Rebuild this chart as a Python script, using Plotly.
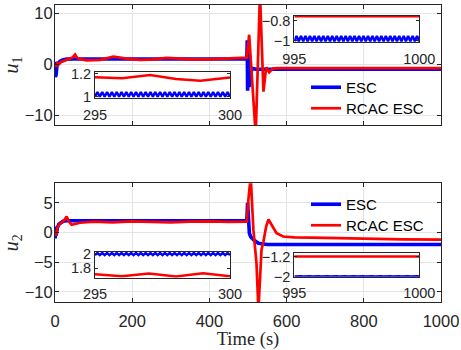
import numpy as np
import plotly.graph_objects as go

# ---------------- data ----------------
# u1, ESC (blue)
t_u1_esc = [0, 1, 2, 3, 5, 8, 13, 20, 30, 45, 497, 498, 499, 501, 503, 505, 508, 512, 520, 1000]
u1_esc = [0.5, -2.5, 0.3, -2.0, -0.3, 0.2, 0.6, 0.85, 1.0, 1.03, 1.03, 4.7, -5.2, 2.0, -4.5, 0.0, -1.5, -0.8, -0.98, -0.98]

# u1, RCAC ESC (red)
t_u1_rcac = [0, 3, 6, 10, 15, 25, 35, 45, 52, 58, 69, 82, 117, 151, 186, 220, 255, 289, 324, 358,
             393, 427, 462, 497, 503, 512, 520, 531, 540, 547, 555, 564, 575, 600, 1000]
u1_rcac = [0.0, -0.5, 0.2, 0.0, 0.4, 0.7, 0.9, 1.3, 1.9, 1.2, 0.95, 0.75, 0.85, 1.5, 1.1, 0.85, 0.95, 1.25, 1.1, 0.95,
           0.95, 1.1, 1.25, 1.3, 5.8, -6.0, -14.0, 14.0, -5.4, -0.6, -1.6, -0.85, -0.76, -0.76, -0.76]

# u2, ESC (blue)
t_u2_esc = [0, 0.5, 1, 3, 6, 10, 15, 21, 30, 497, 499, 501, 503.5, 507, 514, 527, 540, 550, 1000]
u2_esc = [0.0, -1.0, 1.0, -0.5, 0.8, 1.4, 1.7, 1.9, 2.0, 2.0, 5.0, 3.3, -0.1, -0.7, -1.2, -1.8, -1.97, -2.0, -2.0]

# u2, RCAC ESC (red)
t_u2_rcac = [0, 3, 6, 10, 15, 20, 25, 30, 35, 43, 65, 100, 150, 200, 250, 300, 350, 400, 450, 497,
             501, 507, 514, 518, 522, 527, 535, 540, 547, 553, 561, 574, 591, 620, 700, 800, 900, 1000]
u2_rcac = [0.2, -0.5, 0.8, 1.3, 1.6, 1.8, 2.2, 2.7, 2.0, 1.3, 1.65, 1.85, 1.7, 1.9, 1.8, 1.7, 1.85, 1.9, 1.8, 1.85,
           5.5, 9.5, 0.45, -2.3, -5.2, -13.0, -2.9, -1.5, 1.0, 2.2, 1.3, -0.1, -0.67, -0.8, -0.9, -1.05, -1.15, -1.2]

# zoomed windows (insets)
t_zoom_a = np.linspace(295, 300, 57)
t_zoom_b = np.linspace(995, 1000, 57)
t_zoom_a_rcac_u1 = [295, 296, 297.04, 298, 298.9, 300]
t_zoom_a_rcac_u2 = [295, 296, 297, 298, 299, 300]
t_zoom_b_rcac = [995, 1000]

zoom_u1_esc_a = [1.0, 1.041, 1.0, 1.041, 1.0, 1.041, 1.0, 1.041, 1.0, 1.041, 1.0, 1.041, 1.0, 1.041,
                 1.0, 1.041, 1.0, 1.041, 1.0, 1.041, 1.0, 1.041, 1.0, 1.041, 1.0, 1.041, 1.0, 1.041,
                 1.0, 1.041, 1.0, 1.041, 1.0, 1.041, 1.0, 1.041, 1.0, 1.041, 1.0, 1.041, 1.0, 1.041,
                 1.0, 1.041, 1.0, 1.041, 1.0, 1.041, 1.0, 1.041, 1.0, 1.041, 1.0, 1.041, 1.0, 1.041, 1.0]
zoom_u1_rcac_a = [1.171, 1.162, 1.191, 1.156, 1.141, 1.168]

zoom_u1_esc_b = [-1.005, -0.953, -1.005, -0.953, -1.005, -0.953, -1.005, -0.953, -1.005, -0.953,
                 -1.005, -0.953, -1.005, -0.953, -1.005, -0.953, -1.005, -0.953, -1.005, -0.953,
                 -1.005, -0.953, -1.005, -0.953, -1.005, -0.953, -1.005, -0.953, -1.005, -0.953,
                 -1.005, -0.953, -1.005, -0.953, -1.005, -0.953, -1.005, -0.953, -1.005, -0.953,
                 -1.005, -0.953, -1.005, -0.953, -1.005, -0.953, -1.005, -0.953, -1.005, -0.953,
                 -1.005, -0.953, -1.005, -0.953, -1.005, -0.953, -1.005]
zoom_u1_rcac_b = [-0.756, -0.756]

zoom_u2_esc_a = [1.985, 2.015, 1.985, 2.015, 1.985, 2.015, 1.985, 2.015, 1.985, 2.015,
                 1.985, 2.015, 1.985, 2.015, 1.985, 2.015, 1.985, 2.015, 1.985, 2.015,
                 1.985, 2.015, 1.985, 2.015, 1.985, 2.015, 1.985, 2.015, 1.985, 2.015,
                 1.985, 2.015, 1.985, 2.015, 1.985, 2.015, 1.985, 2.015, 1.985, 2.015,
                 1.985, 2.015, 1.985, 2.015, 1.985, 2.015, 1.985, 2.015, 1.985, 2.015,
                 1.985, 2.015, 1.985, 2.015, 1.985, 2.015, 1.985]
zoom_u2_rcac_a = [1.716, 1.689, 1.729, 1.686, 1.731, 1.688]

zoom_u2_esc_b = [-2.004, -1.994, -2.004, -1.994, -2.004, -1.994, -2.004, -1.994, -2.004, -1.994,
                 -2.004, -1.994, -2.004, -1.994, -2.004, -1.994, -2.004, -1.994, -2.004, -1.994,
                 -2.004, -1.994, -2.004, -1.994, -2.004, -1.994, -2.004, -1.994, -2.004, -1.994,
                 -2.004, -1.994, -2.004, -1.994, -2.004, -1.994, -2.004, -1.994, -2.004, -1.994,
                 -2.004, -1.994, -2.004, -1.994, -2.004, -1.994, -2.004, -1.994, -2.004, -1.994,
                 -2.004, -1.994, -2.004, -1.994, -2.004, -1.994, -2.004]
zoom_u2_rcac_b = [-1.2, -1.2]

x_ticks = [0, 200, 400, 600, 800, 1000]
u1_ticks = [-10, 0, 10]
u2_ticks = [-10, -5, 0, 5]

# ---------------- figure ----------------
W, H = 461, 350
BLUE, RED = "#0000ff", "#ff0000"
AX = "#262626"
SANS = "Liberation Sans, Arial, Helvetica, sans-serif"
SERIF = "Liberation Serif, Times New Roman, serif"


def xd(l, r):
    return [l / W, r / W]


def yd(top, bottom):
    return [(H - bottom) / H, (H - top) / H]


fig = go.Figure()

# main u1
fig.add_trace(go.Scatter(x=t_u1_esc, y=u1_esc, mode="lines", name="ESC",
                         line=dict(color=BLUE, width=3.6), xaxis="x", yaxis="y", legend="legend"))
fig.add_trace(go.Scatter(x=t_u1_rcac, y=u1_rcac, mode="lines", name="RCAC ESC",
                         line=dict(color=RED, width=2.7), xaxis="x", yaxis="y", legend="legend2"))
# main u2
fig.add_trace(go.Scatter(x=t_u2_esc, y=u2_esc, mode="lines", name="ESC",
                         line=dict(color=BLUE, width=3.6), xaxis="x2", yaxis="y2", legend="legend3"))
fig.add_trace(go.Scatter(x=t_u2_rcac, y=u2_rcac, mode="lines", name="RCAC ESC",
                         line=dict(color=RED, width=2.7), xaxis="x2", yaxis="y2", legend="legend4"))
# insets
fig.add_trace(go.Scatter(x=t_zoom_a, y=zoom_u1_esc_a, mode="lines", showlegend=False,
                         line=dict(color=BLUE, width=2.5), xaxis="x3", yaxis="y3"))
fig.add_trace(go.Scatter(x=t_zoom_a_rcac_u1, y=zoom_u1_rcac_a, mode="lines", showlegend=False,
                         line=dict(color=RED, width=2.5), xaxis="x3", yaxis="y3"))
fig.add_trace(go.Scatter(x=t_zoom_b, y=zoom_u1_esc_b, mode="lines", showlegend=False,
                         line=dict(color=BLUE, width=2.5), xaxis="x4", yaxis="y4"))
fig.add_trace(go.Scatter(x=t_zoom_b_rcac, y=zoom_u1_rcac_b, mode="lines", showlegend=False,
                         line=dict(color=RED, width=2.5), xaxis="x4", yaxis="y4"))
fig.add_trace(go.Scatter(x=t_zoom_a, y=zoom_u2_esc_a, mode="lines", showlegend=False,
                         line=dict(color=BLUE, width=2.5), xaxis="x5", yaxis="y5"))
fig.add_trace(go.Scatter(x=t_zoom_a_rcac_u2, y=zoom_u2_rcac_a, mode="lines", showlegend=False,
                         line=dict(color=RED, width=2.5), xaxis="x5", yaxis="y5"))
fig.add_trace(go.Scatter(x=t_zoom_b, y=zoom_u2_esc_b, mode="lines", showlegend=False,
                         line=dict(color=BLUE, width=2.5), xaxis="x6", yaxis="y6"))
fig.add_trace(go.Scatter(x=t_zoom_b_rcac, y=zoom_u2_rcac_b, mode="lines", showlegend=False,
                         line=dict(color=RED, width=2.5), xaxis="x6", yaxis="y6"))

main_common = dict(showline=True, linecolor=AX, linewidth=1, mirror="allticks",
                   ticks="inside", ticklen=4, tickcolor=AX, tickwidth=1, automargin=False,
                   showgrid=True, gridcolor="#e4e4e4", gridwidth=1, zeroline=False,
                   tickfont=dict(family=SANS, size=16.5, color=AX))
inset_common = dict(showline=True, linecolor=AX, linewidth=1, mirror="allticks",
                    ticks="inside", ticklen=3, tickcolor=AX, tickwidth=1, automargin=False,
                    showgrid=False, zeroline=False,
                    tickfont=dict(family=SANS, size=14.5, color=AX))

XM = xd(55, 441)
XA = xd(95, 230)
XB = xd(294.3, 419.3)


def leg(center_px):
    return dict(x=306 / W, y=(H - center_px) / H, xanchor="left", yanchor="middle",
                bgcolor="rgba(0,0,0,0)", font=dict(family=SANS, size=15, color="#000000"))


fig.update_layout(
    template="none",
    width=W, height=H, margin=dict(l=0, r=0, t=0, b=0, autoexpand=False),
    paper_bgcolor="white", plot_bgcolor="white",
    xaxis=dict(domain=XM, range=[0, 1000], tickvals=x_ticks, showticklabels=False,
               anchor="y", **main_common),
    yaxis=dict(domain=yd(5, 125), range=[-11.95, 11.65], tickvals=u1_ticks, anchor="x",
               ticklabelstandoff=-2,
               title=dict(text="<i>u</i><sub>1</sub>", font=dict(family=SERIF, size=20, color=AX), standoff=8),
               **main_common),
    xaxis2=dict(domain=XM, range=[0, 1000], tickvals=x_ticks, anchor="y2", ticklabelstandoff=4,
                title=dict(text="Time (s)", font=dict(family=SERIF, size=18.5, color=AX), standoff=6),
                **main_common),
    yaxis2=dict(domain=yd(183.3, 302), range=[-11.7, 8.3], tickvals=u2_ticks, anchor="x2",
                ticklabelstandoff=-2,
                title=dict(text="<i>u</i><sub>2</sub>", font=dict(family=SERIF, size=20, color=AX), standoff=8),
                **main_common),
    xaxis3=dict(domain=XA, range=[295, 300], tickvals=[295, 300], anchor="y3", ticklabelstandoff=3, **inset_common),
    yaxis3=dict(domain=yd(71.7, 98.3), range=[0.986, 1.22], tickvals=[1, 1.2], anchor="x3", **inset_common),
    xaxis4=dict(domain=XB, range=[995, 1000], tickvals=[995, 1000], anchor="y4", ticklabelstandoff=3, **inset_common),
    yaxis4=dict(domain=yd(15.7, 42.3), range=[-1.016, -0.75], tickvals=[-1, -0.8], anchor="x4", **inset_common),
    xaxis5=dict(domain=XA, range=[295, 300], tickvals=[295, 300], anchor="y5", ticklabelstandoff=3, **inset_common),
    yaxis5=dict(domain=yd(251.7, 277.7), range=[1.669, 2.032], tickvals=[1.8, 2], anchor="x5", **inset_common),
    xaxis6=dict(domain=XB, range=[995, 1000], tickvals=[995, 1000], anchor="y6", ticklabelstandoff=3, **inset_common),
    yaxis6=dict(domain=yd(252.7, 276.7), range=[-2.01, -1.045], tickvals=[-2, -1.2], anchor="x6", **inset_common),
    legend=leg(87.5),
    legend2=leg(108.5),
    legend3=leg(204.5),
    legend4=leg(225.5),
)

fig.write_html("out.html", config={"displayModeBar": False},
               post_script="document.body.style.margin='0px';")
